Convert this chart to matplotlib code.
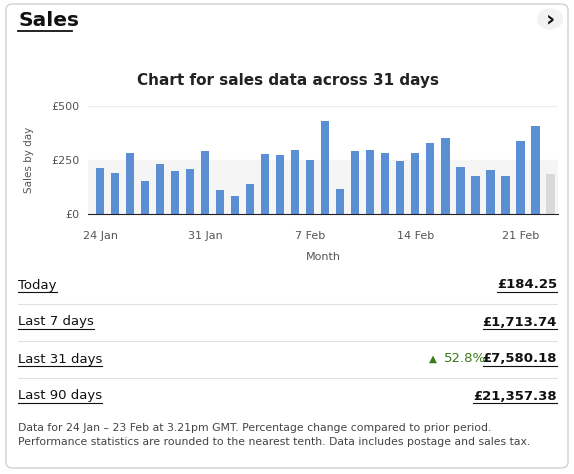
import matplotlib
matplotlib.use("Agg")
import matplotlib.pyplot as plt
from matplotlib.patches import FancyBboxPatch, Circle
from matplotlib.lines import Line2D

days = ["24 Jan","25 Jan","26 Jan","27 Jan","28 Jan","29 Jan","30 Jan","31 Jan","1 Feb","2 Feb","3 Feb","4 Feb","5 Feb","6 Feb","7 Feb","8 Feb","9 Feb","10 Feb","11 Feb","12 Feb","13 Feb","14 Feb","15 Feb","16 Feb","17 Feb","18 Feb","19 Feb","20 Feb","21 Feb","22 Feb","23 Feb"]
sales = [211,188,281,153,230,199,207,292,111,83,137,278,272,295,248,429,116,290,295,281,245,281,329,350,218,174,204,174,338,407,184.25]
tick_labels = ["24 Jan","31 Jan","7 Feb","14 Feb","21 Feb"]
tick_pos = [0,7,14,21,28]
yticks = [0,250,500]
ytick_labels = ["£0","£250","£500"]
rows = ["Today","Last 7 days","Last 31 days","Last 90 days"]
row_values = ["£184.25","£1,713.74","£7,580.18","£21,357.38"]

W, H = 574, 474
fig = plt.figure(figsize=(W/100, H/100), dpi=100)
def fx(x): return x/W
def fy(y): return 1 - y/H

card = FancyBboxPatch((fx(6), fy(468)), fx(562), 464/H, boxstyle="round,pad=0,rounding_size=0.012",
                      transform=fig.transFigure, fc="white", ec="#d0d0d0", lw=1, zorder=-10)
fig.patches.append(card)
fig.text(fx(18), fy(21), "Sales", fontsize=14.5, fontweight="bold", color="#111", va="center")
fig.add_artist(Line2D([fx(18), fx(72)], [fy(31), fy(31)], color="#111", lw=1.3))
fig.patches.append(Circle((fx(550), fy(19)), 13/W, transform=fig.transFigure, fc="#f2f2f2", ec="none", zorder=-5))
fig.text(fx(550), fy(19), "›", fontsize=16, fontweight="bold", ha="center", va="center", color="#111")

fig.text(fx(288), fy(81), "Chart for sales data across 31 days", fontsize=11, fontweight="bold", ha="center", va="center", color="#222")

ax = fig.add_axes([fx(88), fy(214), fx(470), 108/H])
ax.set_facecolor("none")
x = list(range(len(sales)))
colors = ["#5b8fd4"]*(len(sales)-1) + ["#d9d9d9"]
ax.axhspan(0, 250, color="#f5f5f5", zorder=0)
ax.axhline(500, color="#eeeeee", lw=1, zorder=0)
ax.bar(x, sales, width=0.55, color=colors, zorder=2)
ax.set_ylim(0, 500)
ax.set_xlim(-0.8, 30.5)
ax.set_yticks(yticks)
ax.set_yticklabels(ytick_labels, fontsize=8, color="#555")
ax.set_xticks(tick_pos)
ax.set_xticklabels(tick_labels, fontsize=8, color="#555")
ax.tick_params(length=0, pad=12)
ax.tick_params(axis="y", pad=6)
for s in ["top","right","left"]:
    ax.spines[s].set_visible(False)
ax.spines["bottom"].set_color("#222")
ax.set_xlabel("Month", fontsize=8, color="#555", labelpad=8)
fig.text(fx(29), fy(160), "Sales by day", fontsize=7.5, color="#555", rotation=90, ha="center", va="center")

row_y = [285, 322, 359, 396]
labels = []
for i, (r, v) in enumerate(zip(rows, row_values)):
    y = fy(row_y[i])
    t1 = fig.text(fx(18), y, r, fontsize=9.5, color="#111", va="center")
    t2 = fig.text(fx(557), y, v, fontsize=9.5, fontweight="bold", color="#111", va="center", ha="right")
    labels += [(t1, row_y[i]), (t2, row_y[i])]
    if i < 3:
        fig.add_artist(Line2D([fx(18), fx(557)], [fy(row_y[i]+19)]*2, color="#e0e0e0", lw=0.8))
fig.text(fx(486), fy(359), "52.8%", fontsize=9.5, color="#3b7a1a", va="center", ha="right")
fig.text(fx(433), fy(359), "▲", fontsize=7.5, color="#3b7a1a", va="center", ha="center")

fig.canvas.draw()
r = fig.canvas.get_renderer()
for t, yy in labels:
    bb = t.get_window_extent(r)
    fig.add_artist(Line2D([bb.x0/W, bb.x1/W], [fy(yy+7)]*2, color="#111", lw=0.8))

fig.text(fx(18), fy(435), "Data for 24 Jan – 23 Feb at 3.21pm GMT. Percentage change compared to prior period.\nPerformance statistics are rounded to the nearest tenth. Data includes postage and sales tax.",
         fontsize=7.8, color="#444", va="center", linespacing=1.5)

fig.savefig("out.png", dpi=100)
